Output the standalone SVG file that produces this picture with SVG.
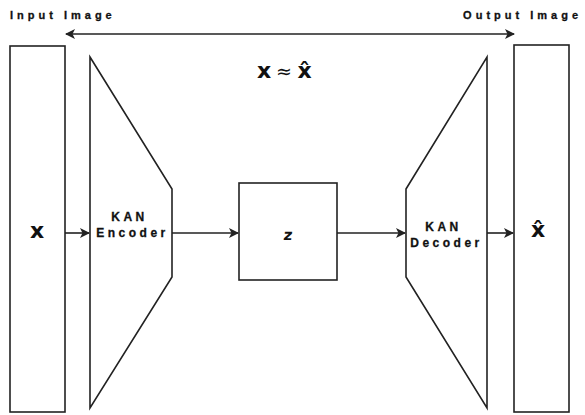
<svg xmlns="http://www.w3.org/2000/svg" width="585" height="415" viewBox="0 0 585 415">
<defs>
<marker id="ah" viewBox="0 0 10 10" refX="9" refY="5" markerWidth="10" markerHeight="10" markerUnits="userSpaceOnUse" orient="auto-start-reverse">
<path d="M0,0 L10,5 L0,10 L2.5,5 Z" fill="#222"/>
</marker>
</defs>
<style>
.s{fill:#fff;stroke:#222;stroke-width:1.6}
.c{fill:none;stroke:#222;stroke-width:1.6}
.lab{font-family:"Liberation Sans",Arial,sans-serif;font-weight:bold;font-size:11px;letter-spacing:4px;fill:#111;stroke:#111;stroke-width:0.3}
.nl{font-family:"Liberation Sans",Arial,sans-serif;font-weight:bold;font-size:12px;letter-spacing:3.5px;fill:#111;stroke:#111;stroke-width:0.3}
.big{font-family:"DejaVu Sans",sans-serif;font-weight:bold;font-size:22px;fill:#111}
</style>
<rect width="585" height="415" fill="#fff"/>
<text class="lab" x="10" y="19">Input Image</text>
<text class="lab" x="582" y="19" text-anchor="end">Output Image</text>
<g id="input"><rect class="s" x="10" y="46" width="55" height="366"/><text class="big" x="37" y="238" text-anchor="middle">x</text></g>
<g id="encoder"><path class="s" d="M90,57 L172,189 L172,277 L90,408 Z"/><text class="nl" x="129.5" y="221" text-anchor="middle">KAN</text><text class="nl" x="132.5" y="237" text-anchor="middle">Encoder</text></g>
<g id="latent"><rect class="s" x="239" y="183" width="98" height="97"/><text x="288" y="240" text-anchor="middle" font-family="'DejaVu Sans',sans-serif" font-weight="bold" font-size="15" fill="#111" transform="skewX(-8) translate(33,0)">z</text></g>
<g id="decoder"><path class="s" d="M406,189 L487,57 L487,408 L406,277 Z"/><text class="nl" x="443.5" y="231" text-anchor="middle">KAN</text><text class="nl" x="446.5" y="247" text-anchor="middle">Decoder</text></g>
<g id="output"><rect class="s" x="514" y="45" width="55" height="367"/><text class="big" x="538" y="237" text-anchor="middle">x̂</text></g>
<text x="264" y="78" text-anchor="middle" class="big" font-size="20">x</text>
<text x="284" y="78" text-anchor="middle" font-family="'DejaVu Sans',sans-serif" font-size="19" fill="#111">≈</text>
<text x="304.5" y="78" text-anchor="middle" class="big" font-size="20">x̂</text>
<g id="connectors">
<line class="c" x1="66" y1="34" x2="514" y2="34" marker-start="url(#ah)" marker-end="url(#ah)"/>
<line class="c" x1="65" y1="233" x2="89" y2="233" marker-end="url(#ah)"/>
<line class="c" x1="172" y1="233" x2="238" y2="233" marker-end="url(#ah)"/>
<line class="c" x1="337" y1="233" x2="405" y2="233" marker-end="url(#ah)"/>
<line class="c" x1="487" y1="233" x2="513" y2="233" marker-end="url(#ah)"/>
</g>
</svg>
